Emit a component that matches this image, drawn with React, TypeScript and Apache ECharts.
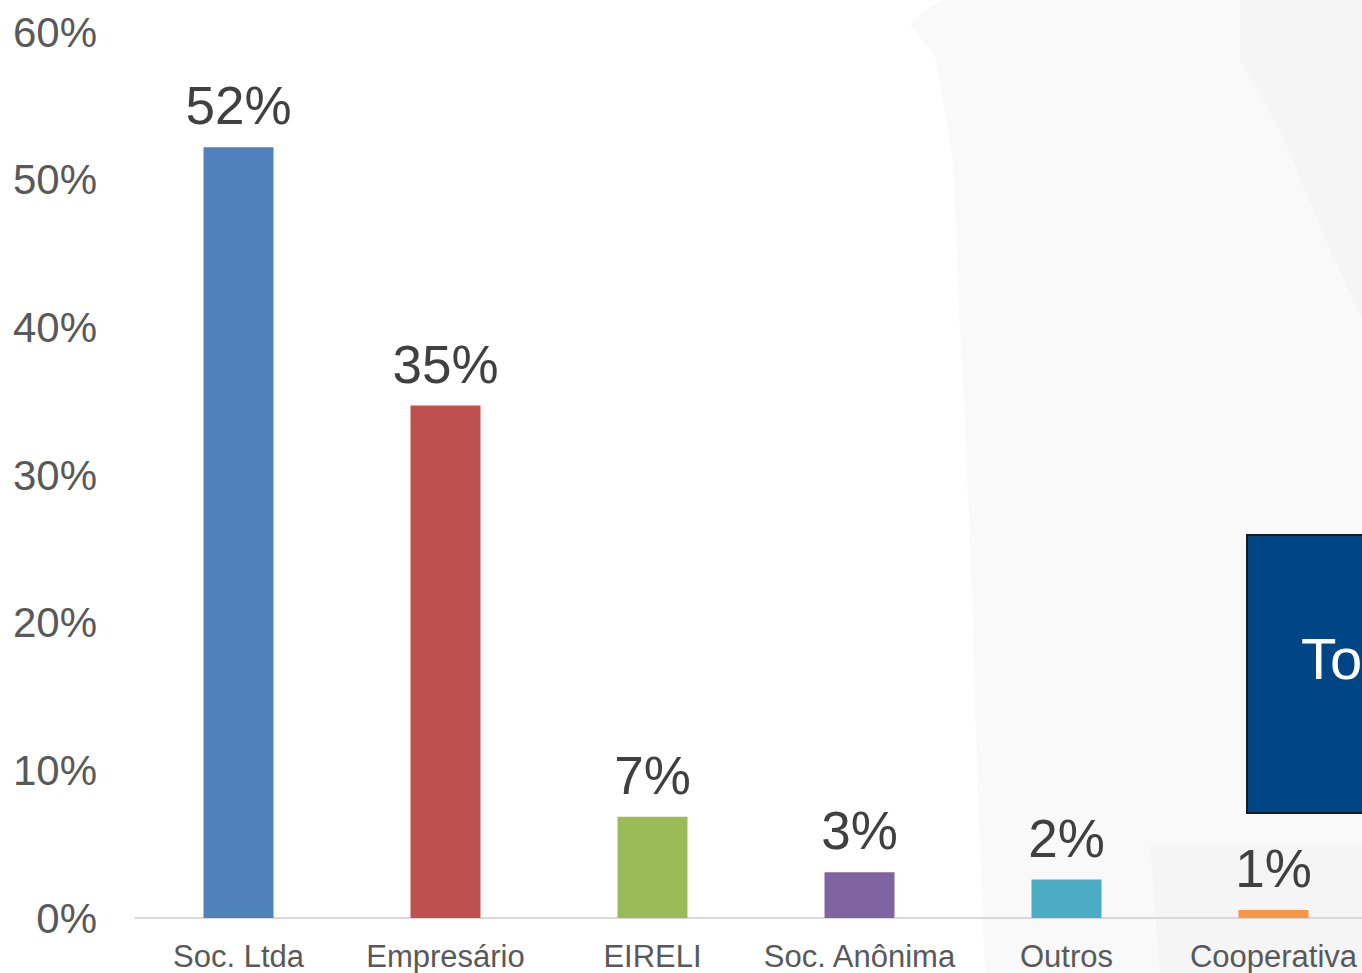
import React, { useEffect, useRef } from "react";
import * as echarts from "echarts";

const categories = ["Soc. Ltda", "Empresário", "EIRELI", "Soc. Anônima", "Outros", "Cooperativa"];
const values = [52.2, 34.7, 6.85, 3.1, 2.6, 0.55];
const valueLabels = ["52%", "35%", "7%", "3%", "2%", "1%"];
const barColors = ["#4f81bd", "#c0504d", "#9bbb59", "#8064a2", "#4bacc6", "#f79646"];
const yTicks = [0, 10, 20, 30, 40, 50, 60];

const FONT = "'Liberation Sans', Arial, sans-serif";

export default function App() {
  const ref = useRef<HTMLDivElement>(null);
  useEffect(() => {
    if (!ref.current) return;
    const chart = echarts.init(ref.current, null, { renderer: "svg" });
    chart.setOption({
      animation: false,
      backgroundColor: "#ffffff",
      textStyle: { fontFamily: FONT },
      graphic: [
        {
          type: "polygon",
          z: -10,
          silent: true,
          shape: {
            points: [
              [943, 0], [1400, 0], [1400, 973], [985, 973], [978, 800], [972, 600],
              [965, 420], [960, 330], [953, 160], [943, 100], [935, 55], [910, 25], [925, 10],
            ],
          },
          style: { fill: "#f9f9f9" },
        },
        {
          type: "polygon",
          z: -9,
          silent: true,
          shape: { points: [[1240, 0], [1400, 0], [1400, 400], [1330, 250], [1280, 130], [1240, 60]] },
          style: { fill: "#f5f5f5" },
        },
        {
          type: "polygon",
          z: -9,
          silent: true,
          shape: { points: [[1150, 845], [1362, 845], [1362, 973], [1160, 973]] },
          style: { fill: "#f5f5f5" },
        },
        {
          type: "rect",
          z: 10,
          shape: { x: 1247, y: 535, width: 200, height: 278 },
          style: { fill: "#004586", stroke: "#1a1a1a", lineWidth: 2 },
        },
        {
          type: "text",
          z: 11,
          x: 1301,
          y: 687,
          style: {
            text: "Total",
            fill: "#ffffff",
            font: "58px " + FONT,
            textVerticalAlign: "bottom",
            verticalAlign: "alphabetic",
          },
        },
      ],
      grid: { left: 135, right: 23, top: 32, bottom: 55, containLabel: false },
      xAxis: {
        type: "category",
        data: categories,
        axisLine: { show: true, lineStyle: { color: "#d9d9d9", width: 2 } },
        axisTick: { show: false },
        axisLabel: { color: "#595959", fontSize: 31, fontFamily: FONT, margin: 23, interval: 0 },
      },
      yAxis: {
        type: "value",
        min: 0,
        max: 60,
        interval: 10,
        splitLine: { show: false },
        axisLine: { show: false },
        axisTick: { show: false },
        axisLabel: {
          color: "#595959",
          fontSize: 42,
          fontFamily: FONT,
          margin: 38,
          formatter: (v: number) => (yTicks.includes(v) ? v + "%" : ""),
        },
      },
      series: [
        {
          type: "bar",
          barWidth: 70,
          data: values.map((v, i) => ({ value: v, itemStyle: { color: barColors[i] } })),
          label: {
            show: true,
            position: "top",
            distance: 15,
            color: "#404040",
            fontSize: 53,
            fontFamily: FONT,
            formatter: (p: any) => valueLabels[p.dataIndex],
          },
        },
      ],
    });
    return () => chart.dispose();
  }, []);
  return (
    <div style={{ position: "fixed", left: 0, top: 0, width: 1362, height: 973, overflow: "hidden" }}>
      <div ref={ref} style={{ width: 1400, height: 973 }} />
    </div>
  );
}
